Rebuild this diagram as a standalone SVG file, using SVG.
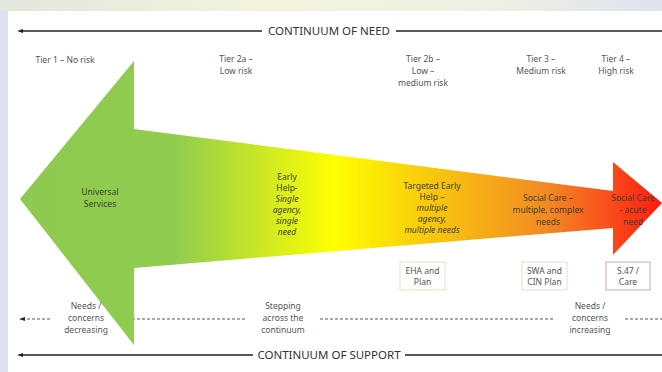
<svg xmlns="http://www.w3.org/2000/svg" width="662" height="372" viewBox="0 0 662 372">
<defs>
<linearGradient id="topbg" x1="0" y1="0" x2="662" y2="0" gradientUnits="userSpaceOnUse">
<stop offset="0" stop-color="#e3e7dc"/>
<stop offset="0.4" stop-color="#f3f3dd"/>
<stop offset="0.75" stop-color="#eef0e2"/>
<stop offset="1" stop-color="#dfe3ef"/>
</linearGradient>
<linearGradient id="arrowgrad" x1="20" y1="0" x2="662" y2="0" gradientUnits="userSpaceOnUse">
<stop offset="0" stop-color="#8dca4f"/>
<stop offset="0.24" stop-color="#8fcc4f"/>
<stop offset="0.49" stop-color="#ffff00"/>
<stop offset="0.64" stop-color="#f8c80c"/>
<stop offset="0.82" stop-color="#f28a24"/>
<stop offset="1" stop-color="#ff1a12"/>
</linearGradient>
<marker id="dot" markerWidth="6" markerHeight="6" refX="3" refY="3" orient="auto" markerUnits="userSpaceOnUse">
<path d="M6,1 L0,3 L6,5 Z" fill="#222"/>
</marker>
<style>
.t{font-family:"Noto Sans","Liberation Sans",sans-serif;font-size:8.5px;fill:#555;text-anchor:middle}
.a{font-family:"Noto Sans","Liberation Sans",sans-serif;font-size:8.5px;fill:#3f3f30;text-anchor:middle}
.i{font-style:italic}
.h{font-family:"Noto Sans","Liberation Sans",sans-serif;font-size:11.5px;fill:#333;text-anchor:middle}
.solid{stroke:#222;stroke-width:1.3;fill:none}
.dash{stroke:#555;stroke-width:1;stroke-dasharray:3,2;fill:none}
.box{fill:#fff;stroke-width:1}
</style>
</defs>
<rect x="0" y="0" width="662" height="372" fill="#dde0ed"/>
<rect x="0" y="0" width="662" height="11" fill="url(#topbg)"/>
<rect x="8" y="11" width="654" height="361" fill="#ffffff"/>

<g id="connectors">
<path class="solid" d="M20,31 H262 M396,31 H662" marker-start="url(#dot)"/>
<path class="solid" d="M20,355 H253 M405,355 H662" marker-start="url(#dot)"/>
<path class="dash" d="M22,319 H50 M122,319 H246 M320,319 H555 M625,319 H662" marker-start="url(#dot)"/>
</g>

<g id="header-need"><text class="h" x="329" y="35">CONTINUUM OF NEED</text></g>
<g id="header-support"><text class="h" x="329" y="359">CONTINUUM OF SUPPORT</text></g>

<g id="tier1"><text class="t" x="65" y="63">Tier 1 – No risk</text></g>
<g id="tier2a"><text class="t" x="236" y="62">Tier 2a –</text><text class="t" x="236" y="74">Low risk</text></g>
<g id="tier2b"><text class="t" x="423" y="62">Tier 2b –</text><text class="t" x="423" y="74">Low –</text><text class="t" x="423" y="86">medium risk</text></g>
<g id="tier3"><text class="t" x="541" y="62">Tier 3 –</text><text class="t" x="541" y="74">Medium risk</text></g>
<g id="tier4"><text class="t" x="616" y="62">Tier 4 –</text><text class="t" x="616" y="74">High risk</text></g>

<g id="arrow">
<polygon points="20,199 134,61 134,129 613,191 613,162 662,203 613,255 613,228 134,268 134,345" fill="url(#arrowgrad)"/>
</g>

<g id="universal"><text class="a" x="100" y="195">Universal</text><text class="a" x="100" y="207">Services</text></g>
<g id="early-help">
<text class="a" x="287" y="180">Early</text>
<text class="a" x="287" y="191">Help-</text>
<text class="a i" x="287" y="202">Single</text>
<text class="a i" x="287" y="213">agency,</text>
<text class="a i" x="287" y="224">single</text>
<text class="a i" x="287" y="235">need</text>
</g>
<g id="targeted">
<text class="a" x="432" y="189">Targeted Early</text>
<text class="a" x="432" y="200">Help –</text>
<text class="a i" x="432" y="211">multiple</text>
<text class="a i" x="432" y="222">agency,</text>
<text class="a i" x="432" y="233">multiple needs</text>
</g>
<g id="social-care"><text class="a" x="548" y="201">Social Care –</text><text class="a" x="548" y="213">multiple, complex</text><text class="a" x="548" y="225">needs</text></g>
<g id="social-acute"><text class="a" x="633" y="201">Social Care</text><text class="a" x="633" y="213">- acute</text><text class="a" x="633" y="225">need</text></g>

<g id="eha"><rect class="box" x="400" y="262" width="45" height="28" stroke="#eee4b8"/><text class="t" x="422.5" y="274">EHA and</text><text class="t" x="422.5" y="285">Plan</text></g>
<g id="swa"><rect class="box" x="522" y="262" width="45" height="28" stroke="#ecdcc8"/><text class="t" x="544.5" y="274">SWA and</text><text class="t" x="544.5" y="285">CIN Plan</text></g>
<g id="s47"><rect class="box" x="606" y="262" width="44" height="28" stroke="#d9a8a8"/><text class="t" x="628" y="274">S.47 /</text><text class="t" x="628" y="285">Care</text></g>

<g id="decreasing"><text class="t" x="86" y="309">Needs /</text><text class="t" x="86" y="321">concerns</text><text class="t" x="86" y="333">decreasing</text></g>
<g id="stepping"><text class="t" x="283" y="309">Stepping</text><text class="t" x="283" y="321">across the</text><text class="t" x="283" y="333">continuum</text></g>
<g id="increasing"><text class="t" x="590" y="309">Needs /</text><text class="t" x="590" y="321">concerns</text><text class="t" x="590" y="333">increasing</text></g>
</svg>
